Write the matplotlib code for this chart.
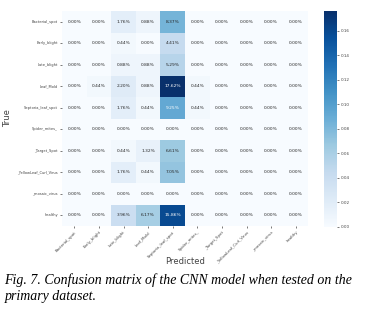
import matplotlib
matplotlib.use("Agg")
import matplotlib.pyplot as plt
import numpy as np
import seaborn as sns

classes = ["Bacterial_spot", "Early_blight", "Late_blight", "Leaf_Mold",
           "Septoria_leaf_spot", "Spider_mites_", "_Target_Spot",
           "_YellowLeaf_Curl_Virus", "_mosaic_virus", "healthy"]

# percentages (rows = true, cols = predicted)
row_bacterial = [0, 0, 1.76, 0.88, 8.37, 0, 0, 0, 0, 0]
row_early = [0, 0, 0.44, 0, 4.41, 0, 0, 0, 0, 0]
row_late = [0, 0, 0.88, 0.88, 5.29, 0, 0, 0, 0, 0]
row_leaf = [0, 0.44, 2.20, 0.88, 17.62, 0.44, 0, 0, 0, 0]
row_septoria = [0, 0, 1.76, 0.44, 9.25, 0.44, 0, 0, 0, 0]
row_spider = [0, 0, 0, 0, 0, 0, 0, 0, 0, 0]
row_target = [0, 0, 0.44, 1.32, 6.61, 0, 0, 0, 0, 0]
row_yellow = [0, 0, 1.76, 0.44, 7.05, 0, 0, 0, 0, 0]
row_mosaic = [0, 0, 0, 0, 0, 0, 0, 0, 0, 0]
row_healthy = [0, 0, 3.96, 6.17, 15.86, 0, 0, 0, 0, 0]

cm = np.array([row_bacterial, row_early, row_late, row_leaf, row_septoria,
               row_spider, row_target, row_yellow, row_mosaic, row_healthy]) / 100.0
annot = np.array([["{:.2%}".format(v) for v in r] for r in cm])

fig = plt.figure(figsize=(3.66, 3.09), dpi=100)
ax = fig.add_axes([62/366, 1-226/309, 246/366, 215/309])
cax = fig.add_axes([324/366, 1-227/309, 13/366, 216/309])

sns.heatmap(cm, annot=annot, fmt="", cmap="Blues", ax=ax, cbar_ax=cax,
            annot_kws={"fontsize": 3.2},
            xticklabels=classes, yticklabels=classes)

ax.set_xticklabels(classes, rotation=45, ha="right", rotation_mode="anchor",
                   fontsize=2.8, color="#444444")
ax.set_yticklabels(classes, rotation=0, fontsize=2.6, color="#444444")
ax.tick_params(axis="both", length=1.5, width=0.5, pad=1.5, colors="#444444")
ax.set_xlabel("Predicted", fontsize=6, color="#444444")
ax.xaxis.set_label_coords(0.5, -0.145)
ax.set_ylabel("True", fontsize=6, color="#444444", labelpad=4)

cax.tick_params(labelsize=3, length=1.5, width=0.5, pad=1.5, colors="#444444")
cax.yaxis.set_major_locator(matplotlib.ticker.MultipleLocator(0.02))
cax.yaxis.set_major_formatter(matplotlib.ticker.FormatStrFormatter("%.2f"))

cap1 = "Fig. 7. Confusion matrix of the CNN model when tested on the"
cap2 = "primary dataset."
fig.text(0.012, 1-284/309, cap1, family="Liberation Serif", style="italic",
         fontsize=10, va="baseline")
fig.text(0.012, 1-300/309, cap2, family="Liberation Serif", style="italic",
         fontsize=10, va="baseline")

fig.savefig("out.png", dpi=100)
